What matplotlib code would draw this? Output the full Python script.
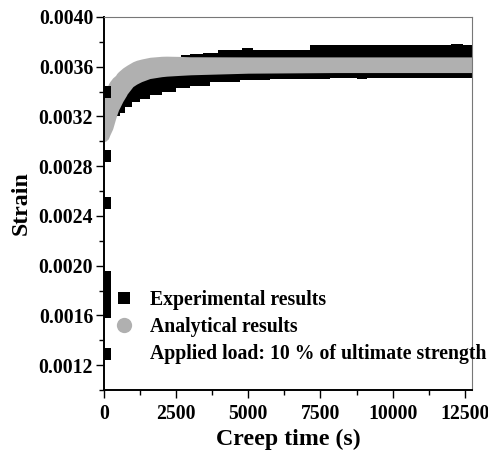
import matplotlib
matplotlib.use("Agg")
import matplotlib.pyplot as plt
from matplotlib.lines import Line2D
from matplotlib.ticker import MultipleLocator, FormatStrFormatter

plt.rcParams['font.family'] = ['Liberation Serif', 'DejaVu Serif']
plt.rcParams['font.weight'] = 'bold'

# initial loading readings (t ~ 0)
init_t = [20, 20, 20, 20, 20, 20, 20, 20, 20]
init_strain = [0.00129, 0.00163, 0.00170, 0.00177, 0.00183, 0.00191, 0.00250, 0.00288, 0.00340]

# experimental scatter band (lower / upper envelope, step-wise)
exp_t = [450, 560, 730, 960, 1250, 1590, 2000, 2510, 2680, 2980, 3430, 3670,
         3950, 4700, 4770, 5160, 5750, 7130, 7825, 8750, 9100, 12040, 12430, 12750]
exp_low = [0.00320, 0.003225, 0.003277, 0.003317, 0.003344, 0.003371, 0.003398,
           0.003425, 0.003425, 0.003443, 0.003443, 0.003478, 0.003478, 0.003492,
           0.003492, 0.003492, 0.003505, 0.003505, 0.00351, 0.00350, 0.00351,
           0.00351, 0.00351, 0.00351]
exp_high = [0.00340, 0.00344, 0.00350, 0.00354, 0.00358, 0.00362, 0.00365,
            0.00366, 0.003698, 0.003700, 0.003714, 0.003714, 0.003733, 0.003733,
            0.003754, 0.003738, 0.003738, 0.003773, 0.003773, 0.003773, 0.003773,
            0.003786, 0.003773, 0.003773]

# analytical band (lower / upper edge)
ana_t = [0, 50, 150, 200, 300, 400, 440, 500, 650, 780, 800, 1000, 1130, 1300,
         1590, 2000, 2170, 2600, 3000, 3300, 5000, 8000, 12750]
ana_low = [0.00300, 0.00300, 0.00302, 0.00305, 0.00310, 0.00318, 0.00321, 0.00325,
           0.00332, 0.00337, 0.00338, 0.00344, 0.00346, 0.00348, 0.003505,
           0.00352, 0.003524, 0.00353, 0.003535, 0.003537, 0.003548, 0.003553, 0.003553]
ana_high = [0.00336, 0.00340, 0.00346, 0.00348, 0.00351, 0.00353, 0.003545, 0.00356,
            0.00359, 0.00361, 0.003613, 0.00364, 0.003652, 0.003662, 0.003676,
            0.003684, 0.003685, 0.003683, 0.00368, 0.00368, 0.003679, 0.003679, 0.003679]

fig = plt.figure(figsize=(4.89, 4.53), dpi=100)
ax = fig.add_axes([0.2127, 0.1391, 0.7525, 0.8234])

ax.fill_between(exp_t, exp_low, exp_high, step='post', color='black', lw=0)
ax.plot(init_t, init_strain, 's', color='black', ms=8.5, mew=0)
ax.fill_between(ana_t, ana_low, ana_high, color='#b0b0b0', lw=0)

ax.set_xlim(0, 12750)
ax.set_ylim(0.0010, 0.0040)
ax.xaxis.set_major_locator(MultipleLocator(2500))
ax.xaxis.set_minor_locator(MultipleLocator(1250))
ax.yaxis.set_major_locator(MultipleLocator(0.0004))
ax.yaxis.set_minor_locator(MultipleLocator(0.0002))
ax.yaxis.set_major_formatter(FormatStrFormatter('%.4f'))

ax.tick_params(which='major', direction='out', length=5.8, width=1.0,
               labelsize=14.2, pad=2, top=False, right=False)
ax.tick_params(which='minor', direction='out', length=3.6, width=1.0,
               top=False, right=False)
ax.tick_params(axis='x', which='major', pad=4)

for s in ['left', 'bottom']:
    ax.spines[s].set_linewidth(1.4)
for s in ['top', 'right']:
    ax.spines[s].set_linewidth(0.8)
    ax.spines[s].set_color('#777777')

ax.set_xlabel('Creep time (s)', fontsize=17.2, fontweight='bold', labelpad=4)
ax.set_ylabel('Strain', fontsize=17.2, fontweight='bold', labelpad=5)

handles = [
    Line2D([], [], marker='s', color='black', ls='none', ms=8.5, mew=0),
    Line2D([], [], marker='o', color='#b0b0b0', ls='none', ms=11, mew=0),
    Line2D([], [], ls='none'),
]
labels = ['Experimental results', 'Analytical results',
          'Applied load: 10 % of ultimate strength']
ax.legend(handles, labels, loc='upper left', bbox_to_anchor=(0.0217, 0.268),
          frameon=False, prop={'size': 14.2, 'weight': 'bold'},
          handlelength=1.2, handletextpad=0.72, labelspacing=0.36,
          borderpad=0, borderaxespad=0)

fig.savefig('out.png', dpi=100)
